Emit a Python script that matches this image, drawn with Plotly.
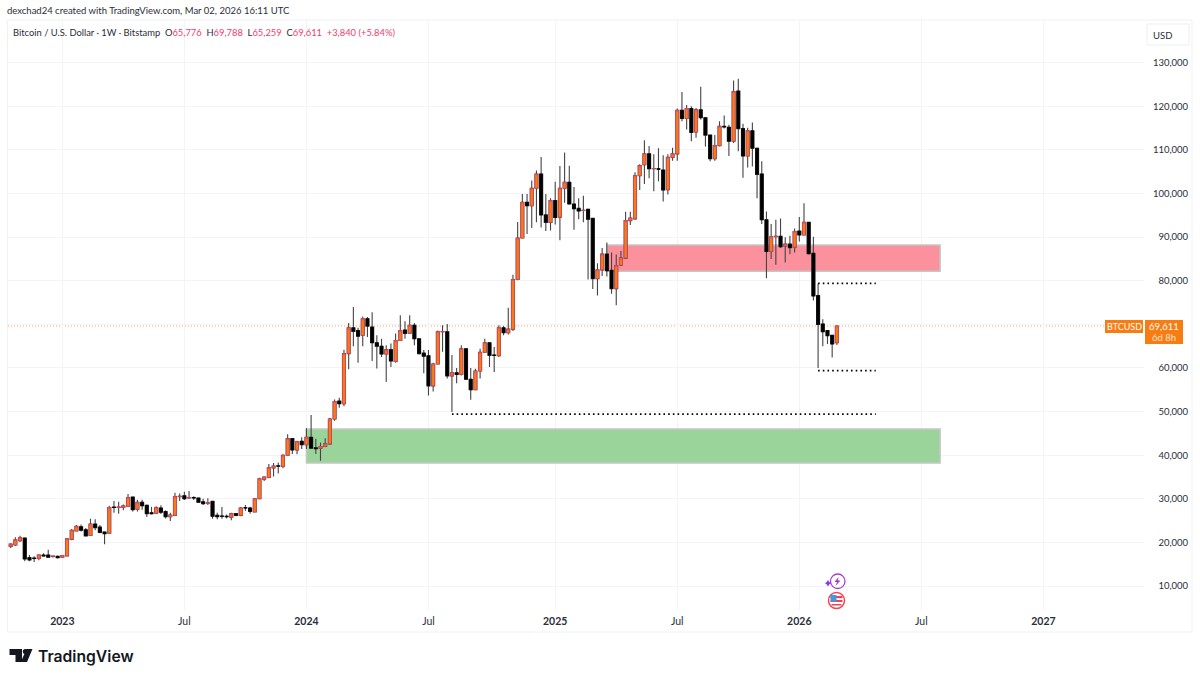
import numpy as np
import pandas as pd
import plotly.graph_objects as go

# weekly BTCUSD candles, prices in thousands of USD
first_week = "2022-10-17"

open_ = [
    19.1, 19.4, 20.4, 21.0, 16.5, 16.4, 16.3, 17.1, 17.1, 16.8, 16.8, 16.6, 16.9, 20.7, 22.6, 23.6,
    22.9, 21.6, 24.2, 23.5, 22.4, 22.1, 28.1, 28.0, 28.0, 28.3, 30.4, 27.6, 29.2, 28.5, 26.8, 26.7,
    27.9, 27.1, 25.9, 26.2, 30.5, 30.7, 30.2, 30.3, 30.2, 29.3, 29.0, 29.4, 26.2, 26.05, 26.0, 25.8,
    26.6, 26.2, 27.95, 27.9, 27.0, 30.0, 34.5, 34.9, 37.1, 37.55, 37.4, 40.0, 43.8, 41.2, 43.2, 42.4,
    44.1, 41.7, 41.6, 42.0, 42.6, 48.3, 52.4, 51.8, 63.3, 69.2, 68.6, 67.5, 71.3, 69.4, 65.8, 65.0,
    63.2, 64.2, 61.5, 66.3, 68.7, 68.0, 69.8, 66.7, 63.4, 62.8, 55.9, 60.9, 68.3, 68.3, 58.2, 58.9,
    58.5, 64.4, 57.4, 55.0, 59.3, 63.6, 65.8, 62.95, 62.8, 69.2, 68.1, 68.9, 80.3, 89.8, 98.0, 97.2,
    101.2, 104.5, 95.1, 93.4, 98.4, 94.6, 101.2, 102.6, 97.6, 96.6, 96.1, 96.4, 94.3, 80.5, 82.5, 86.1,
    82.4, 78.2, 83.6, 85.2, 93.8, 94.2, 104.1, 106.6, 109.1, 105.7, 105.7, 105.4, 100.9, 108.3, 109.1, 119.1,
    117.2, 119.5, 114.1, 119.2, 117.4, 113.4, 108.0, 111.0, 115.4, 115.2, 112.0, 123.5, 114.9, 108.6, 114.4, 110.4,
    104.5, 94.0, 86.7, 90.1, 90.2, 88.0, 88.4, 87.7, 91.4, 90.5, 93.4, 86.3, 76.6, 70.1, 68.6, 67.5,
    65.776,
]
high = [
    19.8, 21.2, 21.5, 21.0, 17.1, 16.8, 17.3, 17.5, 18.3, 17.0, 17.0, 17.1, 20.9, 23.1, 24.0, 24.1,
    23.3, 25.4, 25.3, 24.0, 22.4, 28.4, 29.5, 29.3, 28.7, 31.1, 30.4, 29.8, 29.8, 28.7, 28.1, 28.3,
    28.5, 27.3, 26.8, 31.4, 31.2, 31.6, 31.8, 30.6, 30.3, 30.0, 30.1, 29.4, 26.8, 28.1, 26.4, 26.8,
    26.6, 28.1, 28.6, 28.2, 30.2, 34.8, 35.2, 38.0, 38.2, 38.3, 40.2, 44.8, 43.8, 43.3, 44.1, 46.2,
    49.2, 43.8, 42.9, 43.9, 48.6, 52.8, 53.2, 64.2, 70.3, 74.0, 69.2, 71.8, 71.7, 72.8, 67.5, 66.7,
    65.2, 65.6, 67.9, 72.1, 70.7, 72.1, 70.3, 66.7, 64.1, 64.1, 61.2, 68.6, 69.8, 70.1, 63.0, 60.0,
    65.2, 64.6, 60.0, 59.8, 64.4, 66.7, 65.8, 64.8, 69.8, 69.6, 73.8, 81.4, 93.5, 99.9, 99.9, 103.0,
    105.3, 108.4, 99.9, 98.9, 102.7, 106.3, 109.4, 106.4, 101.5, 98.9, 99.5, 96.4, 94.3, 84.0, 87.5, 88.8,
    86.5, 86.0, 86.8, 95.8, 95.8, 104.9, 106.7, 112.2, 110.9, 109.0, 110.4, 108.8, 109.0, 110.5, 119.5, 123.3,
    120.3, 120.0, 119.6, 124.5, 117.4, 113.4, 113.4, 116.6, 117.9, 115.8, 125.9, 126.3, 116.0, 115.1, 116.3, 110.4,
    107.4, 95.9, 93.0, 94.0, 94.3, 90.0, 90.3, 92.0, 94.6, 97.8, 93.4, 90.1, 79.4, 71.2, 68.7, 67.5,
    69.788,
]
low = [
    18.7, 19.2, 20.1, 15.7, 15.7, 15.5, 15.9, 16.8, 16.5, 16.5, 16.3, 16.6, 16.9, 20.5, 22.5, 22.5,
    21.5, 21.5, 22.8, 22.1, 19.6, 22.0, 26.8, 26.6, 27.4, 28.2, 27.1, 27.1, 27.5, 25.8, 26.4, 26.6,
    26.5, 25.5, 24.9, 26.2, 29.5, 29.7, 30.0, 29.7, 29.1, 28.6, 28.6, 25.4, 25.3, 25.4, 25.5, 25.1,
    26.0, 26.0, 27.2, 26.6, 26.9, 29.9, 34.1, 34.7, 35.1, 35.8, 37.0, 40.0, 40.3, 40.2, 41.4, 41.4,
    41.5, 40.3, 38.7, 41.8, 42.4, 47.9, 50.9, 51.2, 59.7, 65.0, 61.2, 65.0, 67.1, 61.6, 59.9, 62.5,
    56.8, 60.2, 61.2, 66.2, 66.7, 67.9, 65.2, 63.1, 58.8, 53.7, 54.6, 60.8, 63.7, 57.6, 49.9, 56.5,
    58.3, 57.3, 52.7, 54.9, 57.6, 63.5, 60.2, 59.1, 62.5, 67.5, 67.7, 68.5, 80.1, 89.8, 90.7, 92.1,
    93.4, 92.2, 91.4, 91.5, 92.9, 89.3, 97.9, 97.5, 91.7, 94.1, 93.4, 80.3, 78.1, 76.6, 81.1, 81.0,
    77.0, 74.4, 83.4, 85.0, 92.8, 94.0, 100.8, 102.2, 103.5, 100.5, 102.8, 98.2, 99.8, 107.5, 107.5, 116.6,
    114.7, 112.0, 112.8, 117.0, 110.8, 107.4, 107.5, 110.8, 114.9, 108.6, 111.6, 109.7, 103.6, 106.0, 106.2, 98.9,
    93.0, 80.6, 85.0, 83.7, 87.5, 84.2, 86.1, 86.5, 89.0, 90.4, 86.0, 75.5, 60.0, 65.0, 65.5, 62.4,
    65.259,
]
close = [
    19.6, 20.6, 21.1, 16.2, 16.0, 16.3, 17.1, 16.9, 16.6, 16.85, 16.5, 17.0, 20.8, 22.8, 23.7, 22.8,
    21.5, 24.2, 23.4, 22.3, 22.0, 28.0, 28.0, 28.1, 28.4, 30.3, 27.5, 29.2, 28.4, 26.6, 26.6, 28.0,
    26.9, 25.9, 26.3, 30.5, 30.6, 30.0, 30.3, 30.2, 29.2, 28.9, 29.1, 26.0, 25.9, 26.0, 25.9, 26.6,
    26.2, 27.9, 27.9, 27.1, 30.0, 34.6, 35.0, 37.1, 37.5, 37.5, 40.0, 43.8, 41.2, 43.1, 42.4, 44.1,
    41.6, 41.5, 42.0, 42.6, 48.3, 52.3, 51.8, 63.3, 69.2, 68.4, 67.3, 71.3, 69.6, 65.8, 65.0, 63.2,
    64.2, 61.6, 66.3, 68.6, 67.9, 69.8, 66.7, 63.3, 62.7, 55.9, 60.9, 68.3, 68.35, 58.2, 58.9, 58.5,
    64.4, 57.4, 55.0, 59.3, 63.6, 65.8, 62.9, 62.9, 69.2, 68.1, 68.9, 80.3, 89.8, 98.0, 97.2, 101.2,
    104.5, 95.1, 93.4, 98.4, 94.5, 101.2, 102.6, 97.6, 96.5, 96.0, 96.15, 94.1, 80.5, 82.5, 86.1, 82.3,
    78.2, 83.5, 85.2, 93.8, 94.4, 104.1, 106.4, 109.1, 105.7, 105.75, 105.6, 100.8, 108.3, 109.1, 119.1, 117.2,
    119.5, 114.0, 119.2, 117.4, 113.4, 108.0, 111.0, 115.4, 115.3, 112.0, 123.4, 114.9, 108.6, 114.4, 110.4, 104.4,
    94.0, 86.7, 90.1, 90.2, 87.8, 88.4, 87.6, 91.3, 90.5, 93.4, 86.2, 76.5, 70.0, 68.3, 67.4, 65.5,
    69.611,
]

price_ticks = [10, 20, 30, 40, 50, 60, 70, 80, 90, 100, 110, 120, 130]
# 70,000 sits under the last price tag in the picture, so its label stays empty
price_labels = [
    "\u200710,000", "\u200720,000", "\u200730,000", "\u200740,000", "\u200750,000", "\u200760,000", "",
    "\u200780,000", "\u200790,000", "100,000", "110,000", "120,000", "130,000",
]
date_ticks = ["2023-01-02", "2023-07-03", "2024-01-01", "2024-07-01", "2025-01-06", "2025-07-07", "2026-01-05", "2026-07-06", "2027-01-04"]
date_labels = ["<b>2023</b>", "Jul", "<b>2024</b>", "Jul", "<b>2025</b>", "Jul", "<b>2026</b>", "Jul", "<b>2027</b>"]

# zones and levels drawn on the chart
green_zone = ("2024-01-01", "2026-08-03", 38.2, 46.0)
red_zone = ("2025-03-24", "2026-08-03", 82.2, 88.2)
dotted_levels = [
    ("2026-02-02", "2026-04-29", 79.4),
    ("2026-02-02", "2026-04-29", 59.4),
    ("2024-08-05", "2026-04-29", 49.4),
]
last_price = 69.611

FONT = "Lato"
TEXT = "#2a2e39"
PINK = "#f23d6d"
ORANGE = "#f77c12"
GRID = "#f3f4f8"

L, R, T, B = 8, 1144, 20, 610


def px(x):
    return (x - L) / (R - L)


def py(y):
    return (B - y) / (B - T)


def rect(x0, y0, x1, y1, **kw):
    return dict(type="rect", xref="paper", yref="paper", x0=px(x0), x1=px(x1), y0=py(y0), y1=py(y1), **kw)


def circle(x0, y0, x1, y1, **kw):
    return dict(type="circle", xref="paper", yref="paper", x0=px(x0), x1=px(x1), y0=py(y0), y1=py(y1), **kw)


def poly(points, color):
    d = "M" + " L".join(f"{px(a):.5f},{py(b):.5f}" for a, b in points) + " Z"
    return dict(type="path", xref="paper", yref="paper", path=d, fillcolor=color, line_width=0)


def label(x, y, text, size=10, color=TEXT, anchor="left", **kw):
    return dict(xref="paper", yref="paper", x=px(x), y=py(y), text=text, showarrow=False, xanchor=anchor, yanchor="middle",
                borderpad=0, borderwidth=0, font=dict(family=FONT, size=size, color=color), **kw)


weeks = pd.date_range(first_week, periods=len(close), freq="7D")
o = np.array(open_)
c = np.array(close)
body_top = np.maximum(o, c)
body_low = np.minimum(o, c)

fig = go.Figure()
# wicks, then the bodies on top so wick and border colours can differ
fig.add_trace(go.Candlestick(
    x=weeks, open=open_, high=high, low=low, close=close,
    increasing=dict(line=dict(color="#444444", width=1.1), fillcolor="#444444"),
    decreasing=dict(line=dict(color="#444444", width=1.1), fillcolor="#444444"),
))
fig.add_trace(go.Candlestick(
    x=weeks, open=open_, high=body_top, low=body_low, close=close,
    increasing=dict(line=dict(color=PINK, width=0.6), fillcolor=ORANGE),
    decreasing=dict(line=dict(color="#000000", width=0.6), fillcolor="#000000"),
))

shapes = []
for (x0, x1, y0, y1), fill in [(green_zone, "#9ad49b"), (red_zone, "#fb919c")]:
    shapes.append(dict(type="rect", x0=x0, x1=x1, y0=y0, y1=y1, fillcolor=fill, layer="between",
                       line=dict(color="#c6c6c6", width=1.5)))
for x0, x1, y in dotted_levels:
    shapes.append(dict(type="line", x0=x0, x1=x1, y0=y, y1=y, line=dict(color="#000000", width=1.7, dash="1.6px,3.1px")))
shapes.append(dict(type="line", xref="paper", x0=0, x1=1, y0=last_price, y1=last_price,
                   line=dict(color="#f9a65a", width=1, dash="1px,2px"), layer="between"))

# frame, USD box, last price tags
shapes.append(rect(7.5, 20, 1192, 632, line=dict(color="#f0f1f5", width=1), layer="below"))
shapes.append(rect(1147, 24, 1189, 45, line=dict(color="#eceef2", width=1), fillcolor="#ffffff"))
shapes.append(rect(1105, 320, 1143, 333, line_width=0, fillcolor=ORANGE))
shapes.append(rect(1145, 320, 1183, 344, line_width=0, fillcolor=ORANGE))

# event icons under the last candle
shapes.append(circle(830.5, 574, 845, 588.5, line=dict(color="#a53fd0", width=1.3), fillcolor="#ffffff"))
shapes.append(poly([(838.5, 577), (834.5, 582), (837, 582), (835.5, 586), (840.5, 580.5), (837.8, 580.5)], "#9c3fc9"))
shapes.append(poly([(828, 580), (829.2, 582), (831, 583.3), (829.2, 584.5), (828, 586.5), (826.8, 584.5), (825, 583.3), (826.8, 582)], "#7b3ff2"))
shapes.append(circle(828.5, 592.5, 844.5, 608.5, line=dict(color="#f2414f", width=1.4), fillcolor="#ffffff"))
shapes.append(rect(830.5, 596, 842.5, 598.2, fillcolor="#f2414f", line_width=0))
shapes.append(rect(830.5, 600, 842.5, 602, fillcolor="#f2414f", line_width=0))
shapes.append(rect(831.5, 604, 841.5, 605.5, fillcolor="#f2414f", line_width=0))
shapes.append(rect(830.5, 595, 836.5, 601.5, fillcolor="#3d9ae8", line_width=0))

# logo mark
shapes.append(poly([(9.5, 649), (22, 649), (22, 662), (15.5, 662), (15.5, 655), (9.5, 655)], "#131722"))
shapes.append(circle(22.8, 649, 27.8, 654, fillcolor="#131722", line_width=0))
shapes.append(poly([(32.5, 649), (27, 662), (20.8, 662), (26.5, 649)], "#131722"))

annotations = [
    label(7, 11, "dexchad24 created with TradingView.com, Mar 02, 2026 16:11 UTC", size=9.5),
    label(13, 32, "Bitcoin / U.S. Dollar · 1W · Bitstamp"
          f"\u2002O<span style='color:{PINK}'>65,776</span>\u2002H<span style='color:{PINK}'>69,788</span>"
          f"\u2002L<span style='color:{PINK}'>65,259</span>\u2002C<span style='color:{PINK}'>69,611</span>"
          f"\u2002<span style='color:{PINK}'>+3,840 (+5.84%)</span>", size=9.4),
    label(1153, 35, "USD", size=9.5),
    label(1124, 326.5, "BTCUSD", size=9, color="#ffffff", anchor="center"),
    label(1164, 326.5, "69,611", size=9.5, color="#ffffff", anchor="center"),
    label(1164, 338, "6d 8h", size=9.5, color="#ffe3cc", anchor="center"),
    dict(label(38, 656, "TradingView", size=16, color="#131722"), font=dict(family="Inter", size=15.7, color="#131722", weight=600)),
]

fig.update_layout(
    width=1200,
    height=679,
    margin=dict(l=L, r=1200 - R, t=T, b=679 - B, pad=0),
    paper_bgcolor="#ffffff",
    plot_bgcolor="#ffffff",
    showlegend=False,
    boxgap=0.25,
    boxgroupgap=0.15,
    shapes=shapes,
    annotations=annotations,
    font=dict(family=FONT, size=10.5, color=TEXT),
    xaxis=dict(
        type="date",
        range=["2022-10-13", "2027-06-03"],
        rangeslider=dict(visible=False),
        tickmode="array",
        tickvals=date_ticks,
        ticktext=date_labels,
        showgrid=True,
        gridcolor=GRID,
        zeroline=False,
        showline=False,
        ticks="outside",
        ticklen=1,
        tickcolor="#ffffff",
    ),
    yaxis=dict(
        side="right",
        range=[4.5, 139.8],
        tickmode="array",
        tickvals=price_ticks,
        ticktext=price_labels,
        tickfont=dict(size=9.5),
        showgrid=True,
        gridcolor=GRID,
        zeroline=False,
        showline=False,
        ticks="outside",
        ticklen=6,
        tickcolor="#ffffff",
    ),
)

# the page has a default body margin that would shift everything by 8 px
fig.write_html("out.html", config=dict(displayModeBar=False), post_script="document.body.style.margin='0';")
